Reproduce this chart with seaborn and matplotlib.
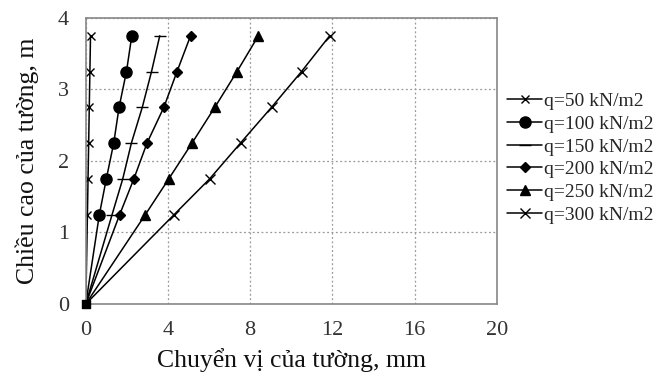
import numpy as np
import pandas as pd
import seaborn as sns
import matplotlib.pyplot as plt

# wall height (m) at the measurement points
heights = [0, 1.25, 1.75, 2.25, 2.75, 3.25, 3.75]

# wall displacement (mm) for each load
q50 = [0, 0.08, 0.11, 0.14, 0.17, 0.20, 0.23]
q100 = [0, 0.66, 1.0, 1.36, 1.62, 1.98, 2.24]
q150 = [0, 1.28, 1.8, 2.22, 2.75, 3.2, 3.6]
q200 = [0, 1.65, 2.34, 2.98, 3.8, 4.44, 5.1]
q250 = [0, 2.9, 4.04, 5.17, 6.28, 7.36, 8.4]
q300 = [0, 4.3, 6.03, 7.53, 9.04, 10.5, 11.87]

labels = ["q=50 kN/m2", "q=100 kN/m2", "q=150 kN/m2",
          "q=200 kN/m2", "q=250 kN/m2", "q=300 kN/m2"]
series = [q50, q100, q150, q200, q250, q300]
markers = ["x", "o", "_", "D", "^", "x"]
msizes = [6, 8, 8, 5.5, 7, 7]

sns.set_style("white")
plt.rcParams['font.family'] = ['Liberation Serif', 'DejaVu Serif']

fig = plt.figure(figsize=(6.65, 3.8), dpi=100)
ax = fig.add_axes([0.129, 0.2, 0.618, 0.753])

for lab, xs, m, s in zip(labels, series, markers, msizes):
    df = pd.DataFrame({'disp': xs, 'h': heights})
    sns.lineplot(data=df, x='disp', y='h', sort=False, color='black',
                 linewidth=1.1, marker=m, markersize=s, markeredgewidth=1.0,
                 markeredgecolor='black', markerfacecolor='black',
                 markevery=list(range(1, len(heights))), label=lab, ax=ax)

ax.scatter([q300[0]], [heights[0]], marker='s', s=40, color='black',
           zorder=5, clip_on=False)

ax.set_xlim(0, 20)
ax.set_ylim(0, 4)
ax.set_xticks([0, 4, 8, 12, 16, 20])
ax.set_yticks([0, 1, 2, 3, 4])
ax.grid(True, color='#999999', linestyle=(0, (1.5, 2)), linewidth=0.9)
for sp in ax.spines.values():
    sp.set_color('#888888')
    sp.set_linewidth(1.2)
ax.tick_params(axis='both', labelsize=16, colors='#333333', length=0)
ax.tick_params(axis='x', pad=12)
ax.tick_params(axis='y', pad=12)

ax.set_xlabel('Chuyển vị của tường, mm', fontsize=18.5, color='#111111',
              labelpad=6)
ax.set_ylabel('Chiều cao của tường, m', fontsize=18.5, color='#111111',
              labelpad=14)

ax.legend(loc='center left', bbox_to_anchor=(1.0, 0.51), frameon=False,
          fontsize=14, handlelength=1.8, handletextpad=0.1,
          labelspacing=0.26, borderaxespad=0.15)

plt.savefig('out.png', dpi=100)
